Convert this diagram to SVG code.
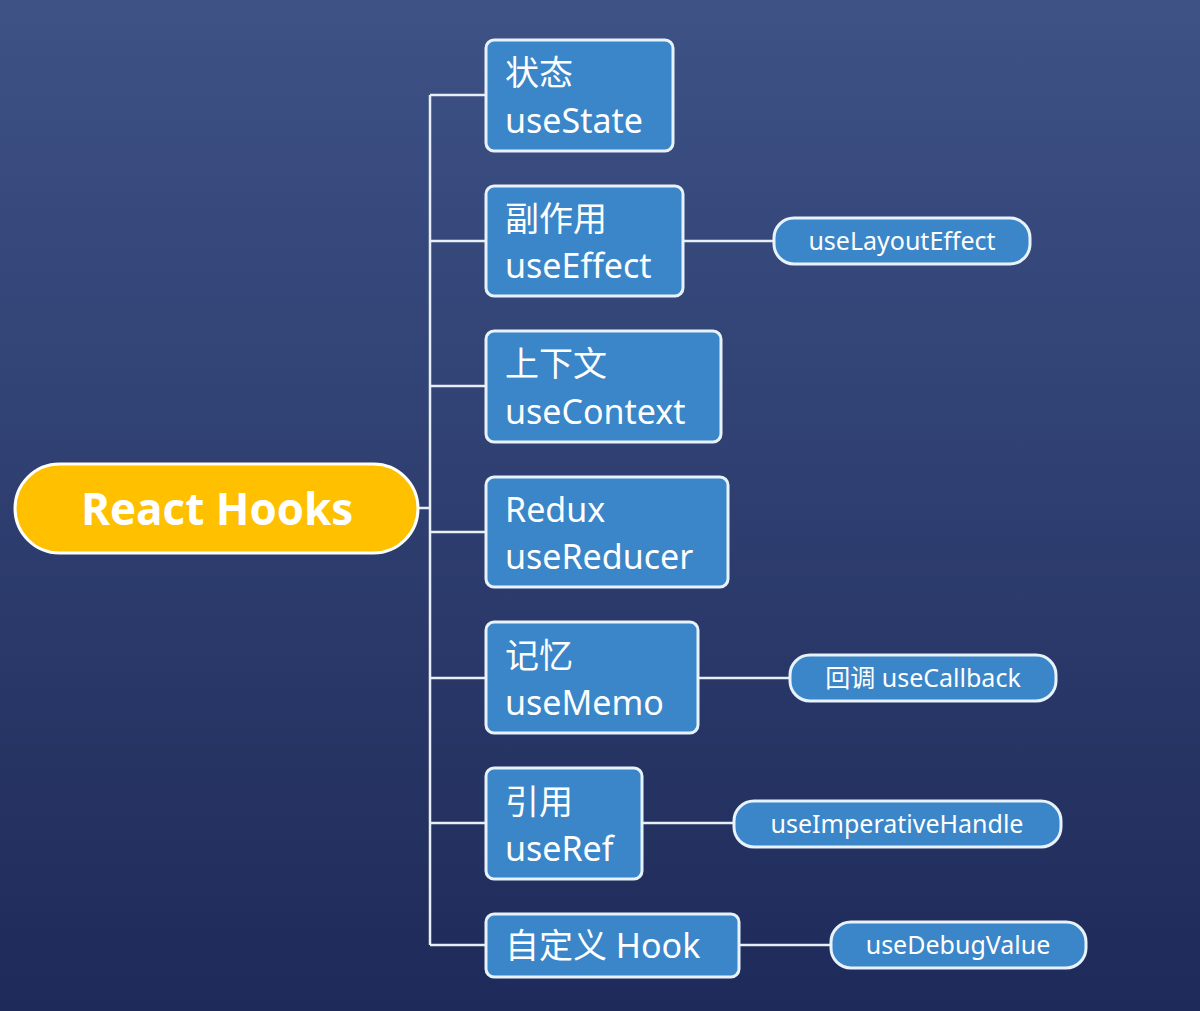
<svg xmlns="http://www.w3.org/2000/svg" width="1200" height="1011" viewBox="0 0 1200 1011">
<defs>
<linearGradient id="bg" x1="0" y1="0" x2="0" y2="1"><stop offset="0" stop-color="#3e5286"/><stop offset="1" stop-color="#1e2a59"/></linearGradient>
<style>
.box{fill:#3a86c8;stroke:#e8f2fb;stroke-width:3}
.t{font-family:"Noto Sans","Noto Sans CJK SC",sans-serif;fill:#fff;font-size:34px}
.l{font-family:"Noto Sans","Noto Sans CJK SC",sans-serif;fill:#fff;font-size:25px}
.c{fill:none;stroke:#e8eef6;stroke-width:2.5}
</style>
</defs>
<rect width="1200" height="1011" fill="url(#bg)"/>
<g id="connectors" class="c">
<path d="M418 508H430M430 95V945M430 95H486M430 241H486M430 386H486M430 532H486M430 678H486M430 823H486M430 945H486"/>
<path d="M683 241H774M698 678H790M642 823H734M739 945H831"/>
</g>
<g id="root"><rect x="15" y="464" width="403" height="89" rx="44.5" fill="#ffc000" stroke="#fff" stroke-width="3"/>
<text x="217" y="525" text-anchor="middle" font-family="'Open Sans','Noto Sans',sans-serif" font-weight="bold" font-size="44" fill="#fff">React Hooks</text></g>
<g id="n1"><rect class="box" x="486" y="40" width="187" height="111" rx="8"/><text class="t" x="505" y="85">状态</text><text class="t" x="505" y="133">useState</text></g>
<g id="n2"><rect class="box" x="486" y="186" width="197" height="110" rx="8"/><text class="t" x="505" y="231">副作用</text><text class="t" x="505" y="278">useEffect</text></g>
<g id="n3"><rect class="box" x="486" y="331" width="235" height="111" rx="8"/><text class="t" x="505" y="376">上下文</text><text class="t" x="505" y="424">useContext</text></g>
<g id="n4"><rect class="box" x="486" y="477" width="242" height="110" rx="8"/><text class="t" x="505" y="522">Redux</text><text class="t" x="505" y="569">useReducer</text></g>
<g id="n5"><rect class="box" x="486" y="622" width="212" height="111" rx="8"/><text class="t" x="505" y="668">记忆</text><text class="t" x="505" y="715">useMemo</text></g>
<g id="n6"><rect class="box" x="486" y="768" width="156" height="111" rx="8"/><text class="t" x="505" y="814">引用</text><text class="t" x="505" y="861">useRef</text></g>
<g id="n7"><rect class="box" x="486" y="914" width="253" height="63" rx="8"/><text class="t" x="505" y="958">自定义 Hook</text></g>
<g id="l1"><rect class="box" x="774" y="218" width="256" height="46" rx="20"/><text class="l" x="902" y="250" text-anchor="middle">useLayoutEffect</text></g>
<g id="l2"><rect class="box" x="790" y="655" width="266" height="46" rx="20"/><text class="l" x="923" y="687" text-anchor="middle">回调 useCallback</text></g>
<g id="l3"><rect class="box" x="734" y="801" width="327" height="46" rx="20"/><text class="l" x="897" y="833" text-anchor="middle">useImperativeHandle</text></g>
<g id="l4"><rect class="box" x="831" y="922" width="255" height="46" rx="20"/><text class="l" x="958" y="954" text-anchor="middle">useDebugValue</text></g>
</svg>
